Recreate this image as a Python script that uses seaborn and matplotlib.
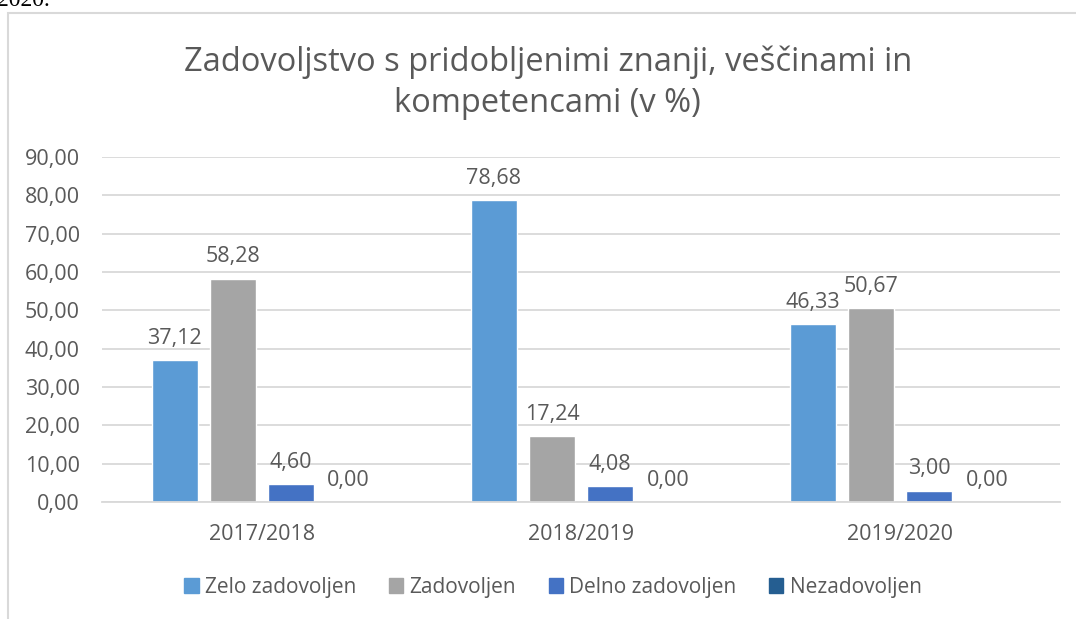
#!/usr/bin/env python3
"""
Zadovoljstvo s pridobljenimi znanji - grouped bar chart (Excel style).
"""

import matplotlib
matplotlib.use("Agg")
import matplotlib.pyplot as plt
import matplotlib.patches as mpatches
import pandas as pd
import seaborn as sns

years = ["2017/2018", "2018/2019", "2019/2020"]
series = ["Zelo zadovoljen", "Zadovoljen", "Delno zadovoljen", "Nezadovoljen"]
zelo = [37.12, 78.68, 46.33]
zadovoljen = [58.28, 17.24, 50.67]
delno = [4.60, 4.08, 3.00]
nezadovoljen = [0.00, 0.00, 0.00]
yticks = [0, 10, 20, 30, 40, 50, 60, 70, 80, 90]

colors = ["#5B9BD5", "#A5A5A5", "#4472C4", "#255E91"]
text_col = "#595959"
grid_col = "#D9D9D9"

sns.set_style("white")
plt.rcParams["font.family"] = ["Open Sans", "DejaVu Sans"]

df = pd.DataFrame({
    "leto": years * 4,
    "serija": [s for s in series for _ in years],
    "vrednost": zelo + zadovoljen + delno + nezadovoljen,
})

fig = plt.figure(figsize=(10.76, 6.19), dpi=100)
ax = fig.add_axes([102 / 1076, 1 - 502 / 619, 958 / 1076, 345 / 619])

sns.barplot(data=df, x="leto", y="vrednost", hue="serija", hue_order=series,
            palette=colors, width=0.727, gap=0.21, saturation=1,
            errorbar=None, legend=False, ax=ax)

for cont in ax.containers:
    ax.bar_label(cont, labels=[f"{b.get_height():.2f}".replace(".", ",") for b in cont],
                 padding=8, fontsize=15.5, color=text_col)

ax.set_ylim(0, 90)
ax.set_yticks(yticks)
ax.set_yticklabels([f"{v:.2f}".replace(".", ",") for v in yticks])
ax.set_xlabel("")
ax.set_ylabel("")
ax.set_xlim(-0.5, 2.5)
ax.grid(axis="y", color=grid_col, linewidth=1.3)
ax.set_axisbelow(True)
for s in ["top", "right", "left"]:
    ax.spines[s].set_visible(False)
ax.spines["bottom"].set_color(grid_col)
ax.spines["bottom"].set_linewidth(1.3)
ax.tick_params(axis="y", length=0, pad=16, labelsize=15.5, labelcolor=text_col)
ax.tick_params(axis="x", length=0, pad=16, labelsize=15.5, labelcolor=text_col)

fig.text(0.509, 1 - 83 / 619, "Zadovoljstvo s pridobljenimi znanji, veščinami in\nkompetencami (v %)",
         ha="center", va="center", fontsize=23.5, color=text_col, linespacing=1.32)

handles = [mpatches.Patch(color=c, label=s) for c, s in zip(colors, series)]
fig.legend(handles=handles, loc="center", bbox_to_anchor=(553 / 1076, 1 - 587 / 619),
           ncol=4, frameon=False, fontsize=15, labelcolor=text_col,
           handlelength=0.7, handleheight=0.7, handletextpad=0.3, columnspacing=1.55)

# chart frame and cut-off text above it
fig.add_artist(mpatches.Rectangle((8 / 1076, -0.05), 1.1, 1 - 13 / 619 + 0.05,
                                  transform=fig.transFigure, fill=False,
                                  edgecolor=grid_col, linewidth=1.5))
fig.text(-3 / 1076, 1 - 6 / 619, "2020.", family="Liberation Serif", fontsize=17,
         color="black", ha="left", va="baseline")

fig.savefig("out.png", dpi=100)
plt.close(fig)
